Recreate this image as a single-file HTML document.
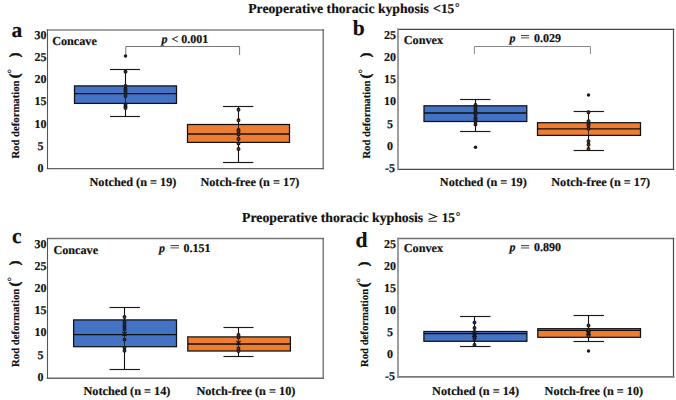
<!DOCTYPE html><html><head><meta charset="utf-8"><style>html,body{margin:0;padding:0;background:#fff;}svg{display:block;}text{font-family:"Liberation Serif",serif;text-rendering:geometricPrecision;stroke:#111;stroke-width:0.18px;}</style></head><body>
<svg width="676" height="400" viewBox="0 0 676 400">
<rect width="676" height="400" fill="#fff"/>
<text x="248.2" y="13" font-size="13.7" font-weight="bold" font-style="normal" text-anchor="start" fill="#111" >Preoperative thoracic kyphosis</text>
<text x="432.9" y="13" font-size="14" font-weight="bold" font-style="normal" text-anchor="start" fill="#111" >&lt;</text>
<text x="440.9" y="13" font-size="13.3" font-weight="bold" font-style="normal" text-anchor="start" fill="#111" >15</text>
<text x="454.9" y="11.2" font-size="11.5" font-weight="bold" font-style="normal" text-anchor="start" fill="#111" >°</text>
<text x="242.1" y="221.9" font-size="13.72" font-weight="bold" font-style="normal" text-anchor="start" fill="#111" >Preoperative thoracic kyphosis</text>
<path d="M428.6 213.4L436.5 216.5L428.6 219.6M428.3 221.2H436.9" fill="none" stroke="#1a1a1a" stroke-width="1.1"/>
<text x="441.7" y="221.8" font-size="13.3" font-weight="bold" font-style="normal" text-anchor="start" fill="#111" >15</text>
<text x="455.8" y="220.2" font-size="11.5" font-weight="bold" font-style="normal" text-anchor="start" fill="#111" >°</text>
<text x="11.5" y="36.5" font-size="21.5" font-weight="bold" font-style="normal" text-anchor="start" fill="#111" >a</text>
<text x="352.7" y="34.7" font-size="21.5" font-weight="bold" font-style="normal" text-anchor="start" fill="#111" >b</text>
<text x="12.0" y="243" font-size="21.5" font-weight="bold" font-style="normal" text-anchor="start" fill="#111" >c</text>
<text x="355.5" y="247.2" font-size="21.5" font-weight="bold" font-style="normal" text-anchor="start" fill="#111" >d</text>
<line x1="47.5" y1="30" x2="323.2" y2="30" stroke="#858585" stroke-width="1.7" stroke-linecap="square"/>
<line x1="323.2" y1="30" x2="323.2" y2="168.6" stroke="#6a6a6a" stroke-width="1.3" stroke-linecap="square"/>
<line x1="47.5" y1="168.6" x2="323.2" y2="168.6" stroke="#626262" stroke-width="1.4" stroke-linecap="square"/>
<line x1="47.5" y1="30" x2="47.5" y2="168.6" stroke="#555" stroke-width="1.1" stroke-linecap="square"/>
<text x="40.4" y="38.8" font-size="12" font-weight="bold" font-style="normal" text-anchor="middle" fill="#111" >30</text>
<text x="40.4" y="60.98" font-size="12" font-weight="bold" font-style="normal" text-anchor="middle" fill="#111" >25</text>
<text x="40.4" y="83.15" font-size="12" font-weight="bold" font-style="normal" text-anchor="middle" fill="#111" >20</text>
<text x="40.4" y="105.33" font-size="12" font-weight="bold" font-style="normal" text-anchor="middle" fill="#111" >15</text>
<text x="40.4" y="127.5" font-size="12" font-weight="bold" font-style="normal" text-anchor="middle" fill="#111" >10</text>
<text x="40.4" y="149.67" font-size="12" font-weight="bold" font-style="normal" text-anchor="middle" fill="#111" >5</text>
<text x="40.4" y="171.85" font-size="12" font-weight="bold" font-style="normal" text-anchor="middle" fill="#111" >0</text>
<text x="52.2" y="44.6" font-size="12.2" font-weight="bold" font-style="normal" text-anchor="start" fill="#111" >Concave</text>
<path d="M125.8 55.5V46.5H239.6V55" fill="none" stroke="#777" stroke-width="1"/>
<text x="161.5" y="42.5" font-size="12" font-weight="bold" font-style="italic" text-anchor="start" fill="#111" >p</text>
<text x="171.6" y="42.5" font-size="12" font-weight="bold" font-style="normal" text-anchor="start" fill="#111" >&lt;</text>
<text x="181.2" y="42.5" font-size="12" font-weight="bold" font-style="normal" text-anchor="start" fill="#111" >0.001</text>
<line x1="125.5" y1="69.5" x2="125.5" y2="116.5" stroke="#111" stroke-width="1.1"/>
<line x1="110" y1="69.5" x2="140" y2="69.5" stroke="#1a1a1a" stroke-width="1.15"/>
<line x1="110" y1="116.5" x2="140" y2="116.5" stroke="#1a1a1a" stroke-width="1.15"/>
<rect x="74.5" y="85.9" width="102.0" height="17.5" fill="#4472c4" stroke="#111" stroke-width="1.25"/>
<line x1="74.5" y1="93.6" x2="176.5" y2="93.6" stroke="#111" stroke-width="1.35"/>
<line x1="125.5" y1="85.9" x2="125.5" y2="103.4" stroke="#111" stroke-width="0.8"/>
<circle cx="125.5" cy="71.8" r="1.45" fill="#24324f" stroke="#151515" stroke-width="1.05"/>
<circle cx="125.5" cy="86" r="1.45" fill="#24324f" stroke="#151515" stroke-width="1.05"/>
<circle cx="125.5" cy="88.8" r="1.45" fill="#24324f" stroke="#151515" stroke-width="1.05"/>
<circle cx="125.5" cy="90.4" r="1.45" fill="#24324f" stroke="#151515" stroke-width="1.05"/>
<circle cx="125.5" cy="92.8" r="1.45" fill="#24324f" stroke="#151515" stroke-width="1.05"/>
<circle cx="125.5" cy="96" r="1.45" fill="#24324f" stroke="#151515" stroke-width="1.05"/>
<circle cx="125.5" cy="104.4" r="1.45" fill="#24324f" stroke="#151515" stroke-width="1.05"/>
<circle cx="125.5" cy="106.4" r="1.45" fill="#24324f" stroke="#151515" stroke-width="1.05"/>
<circle cx="125.5" cy="108" r="1.45" fill="#24324f" stroke="#151515" stroke-width="1.05"/>
<circle cx="125.5" cy="56" r="1.75" fill="#1a1a1a"/>
<line x1="238.5" y1="106.5" x2="238.5" y2="162.5" stroke="#111" stroke-width="1.1"/>
<line x1="223" y1="106.5" x2="253.3" y2="106.5" stroke="#1a1a1a" stroke-width="1.15"/>
<line x1="223" y1="162.5" x2="253.3" y2="162.5" stroke="#1a1a1a" stroke-width="1.15"/>
<rect x="187.5" y="124.5" width="102.0" height="17.900000000000006" fill="#ed7d31" stroke="#111" stroke-width="1.25"/>
<line x1="187.5" y1="134" x2="289.5" y2="134" stroke="#111" stroke-width="1.35"/>
<line x1="238.5" y1="124.5" x2="238.5" y2="142.4" stroke="#111" stroke-width="0.8"/>
<circle cx="238.5" cy="109.8" r="1.45" fill="#6e3a18" stroke="#151515" stroke-width="1.05"/>
<circle cx="238.5" cy="120.3" r="1.45" fill="#6e3a18" stroke="#151515" stroke-width="1.05"/>
<circle cx="238.5" cy="130" r="1.45" fill="#6e3a18" stroke="#151515" stroke-width="1.05"/>
<circle cx="238.5" cy="131.5" r="1.45" fill="#6e3a18" stroke="#151515" stroke-width="1.05"/>
<circle cx="238.5" cy="134.5" r="1.45" fill="#6e3a18" stroke="#151515" stroke-width="1.05"/>
<circle cx="238.5" cy="139" r="1.45" fill="#6e3a18" stroke="#151515" stroke-width="1.05"/>
<circle cx="238.5" cy="143.6" r="1.45" fill="#6e3a18" stroke="#151515" stroke-width="1.05"/>
<circle cx="238.5" cy="149" r="1.45" fill="#6e3a18" stroke="#151515" stroke-width="1.05"/>
<text x="89.5" y="185.7" font-size="12.25" font-weight="bold" font-style="normal" text-anchor="start" fill="#111" >Notched (n = 19)</text>
<text x="200.4" y="185.7" font-size="12.25" font-weight="bold" font-style="normal" text-anchor="start" fill="#111" >Notch-free (n = 17)</text>
<text transform="translate(19.3,158.6) rotate(-90)" font-size="10.7" font-weight="bold" fill="#111">Rod deformation</text>
<text transform="translate(18.5,78.2) rotate(-90)" font-size="14" font-weight="bold" fill="#111" style="stroke-width:0.55px">(</text>
<text transform="translate(18.5,57.3) rotate(-90)" font-size="14" font-weight="bold" fill="#111" style="stroke-width:0.55px">)</text>
<text transform="translate(15,73.5) rotate(-90)" font-size="11" font-weight="normal" fill="#111">°</text>
<line x1="398" y1="29.4" x2="673.5" y2="29.4" stroke="#454545" stroke-width="1.25" stroke-linecap="square"/>
<line x1="673.5" y1="29.4" x2="673.5" y2="169.45" stroke="#4a4a4a" stroke-width="1.25" stroke-linecap="square"/>
<line x1="398" y1="169.45" x2="673.5" y2="169.45" stroke="#4a4a4a" stroke-width="1.25" stroke-linecap="square"/>
<line x1="398" y1="29.4" x2="398" y2="169.45" stroke="#8c8c8c" stroke-width="1.7" stroke-linecap="square"/>
<text x="390.1" y="38.85" font-size="12" font-weight="bold" font-style="normal" text-anchor="middle" fill="#111" >25</text>
<text x="390.1" y="61.03" font-size="12" font-weight="bold" font-style="normal" text-anchor="middle" fill="#111" >20</text>
<text x="390.1" y="83.21" font-size="12" font-weight="bold" font-style="normal" text-anchor="middle" fill="#111" >15</text>
<text x="390.1" y="105.39" font-size="12" font-weight="bold" font-style="normal" text-anchor="middle" fill="#111" >10</text>
<text x="390.1" y="127.57" font-size="12" font-weight="bold" font-style="normal" text-anchor="middle" fill="#111" >5</text>
<text x="390.1" y="149.75" font-size="12" font-weight="bold" font-style="normal" text-anchor="middle" fill="#111" >0</text>
<text x="390.1" y="171.93" font-size="12" font-weight="bold" font-style="normal" text-anchor="middle" fill="#111" >-5</text>
<text x="403.8" y="44.4" font-size="12.2" font-weight="bold" font-style="normal" text-anchor="start" fill="#111" >Convex</text>
<path d="M474.4 54V46.5H590.4V54" fill="none" stroke="#888" stroke-width="1"/>
<text x="509.5" y="41.5" font-size="12" font-weight="bold" font-style="italic" text-anchor="start" fill="#111" >p</text>
<rect x="521" y="35.0" width="8.200000000000045" height="1.1" fill="#4a4a4a"/>
<rect x="521" y="37.1" width="8.200000000000045" height="1.5" fill="#8c8c8c"/>
<text x="533.9" y="41.5" font-size="12" font-weight="bold" font-style="normal" text-anchor="start" fill="#111" >0.029</text>
<line x1="475.5" y1="99.5" x2="475.5" y2="131.5" stroke="#111" stroke-width="1.1"/>
<line x1="460" y1="99.5" x2="490.5" y2="99.5" stroke="#1a1a1a" stroke-width="1.15"/>
<line x1="460" y1="131.5" x2="490.5" y2="131.5" stroke="#1a1a1a" stroke-width="1.15"/>
<rect x="424" y="105.8" width="102.79999999999995" height="15.700000000000003" fill="#4472c4" stroke="#111" stroke-width="1.25"/>
<line x1="424" y1="113" x2="526.8" y2="113" stroke="#111" stroke-width="1.35"/>
<line x1="475.5" y1="105.8" x2="475.5" y2="121.5" stroke="#111" stroke-width="0.8"/>
<circle cx="475.5" cy="105" r="1.45" fill="#24324f" stroke="#151515" stroke-width="1.05"/>
<circle cx="475.5" cy="107" r="1.45" fill="#24324f" stroke="#151515" stroke-width="1.05"/>
<circle cx="475.5" cy="109" r="1.45" fill="#24324f" stroke="#151515" stroke-width="1.05"/>
<circle cx="475.5" cy="111" r="1.45" fill="#24324f" stroke="#151515" stroke-width="1.05"/>
<circle cx="475.5" cy="113" r="1.45" fill="#24324f" stroke="#151515" stroke-width="1.05"/>
<circle cx="475.5" cy="114.5" r="1.45" fill="#24324f" stroke="#151515" stroke-width="1.05"/>
<circle cx="475.5" cy="118" r="1.45" fill="#24324f" stroke="#151515" stroke-width="1.05"/>
<circle cx="475.5" cy="119.5" r="1.45" fill="#24324f" stroke="#151515" stroke-width="1.05"/>
<circle cx="475.5" cy="121.5" r="1.45" fill="#24324f" stroke="#151515" stroke-width="1.05"/>
<circle cx="475.5" cy="124.5" r="1.45" fill="#24324f" stroke="#151515" stroke-width="1.05"/>
<circle cx="475.5" cy="147.2" r="1.75" fill="#1a1a1a"/>
<line x1="588.5" y1="111.5" x2="588.5" y2="150.5" stroke="#111" stroke-width="1.1"/>
<line x1="573.6" y1="111.5" x2="604" y2="111.5" stroke="#1a1a1a" stroke-width="1.15"/>
<line x1="573.6" y1="150.5" x2="604" y2="150.5" stroke="#1a1a1a" stroke-width="1.15"/>
<rect x="537.5" y="122.7" width="103.0" height="12.700000000000003" fill="#ed7d31" stroke="#111" stroke-width="1.25"/>
<line x1="537.5" y1="128.8" x2="640.5" y2="128.8" stroke="#111" stroke-width="1.35"/>
<line x1="588.5" y1="122.7" x2="588.5" y2="135.4" stroke="#111" stroke-width="0.8"/>
<circle cx="588.5" cy="112.3" r="1.45" fill="#6e3a18" stroke="#151515" stroke-width="1.05"/>
<circle cx="588.5" cy="121.3" r="1.45" fill="#6e3a18" stroke="#151515" stroke-width="1.05"/>
<circle cx="588.5" cy="124.4" r="1.45" fill="#6e3a18" stroke="#151515" stroke-width="1.05"/>
<circle cx="588.5" cy="125.6" r="1.45" fill="#6e3a18" stroke="#151515" stroke-width="1.05"/>
<circle cx="588.5" cy="128.8" r="1.45" fill="#6e3a18" stroke="#151515" stroke-width="1.05"/>
<circle cx="588.5" cy="141.3" r="1.45" fill="#6e3a18" stroke="#151515" stroke-width="1.05"/>
<circle cx="588.5" cy="144.8" r="1.45" fill="#6e3a18" stroke="#151515" stroke-width="1.05"/>
<circle cx="588.5" cy="149" r="1.45" fill="#6e3a18" stroke="#151515" stroke-width="1.05"/>
<circle cx="588.5" cy="95" r="1.75" fill="#1a1a1a"/>
<text x="439.8" y="185.7" font-size="12.25" font-weight="bold" font-style="normal" text-anchor="start" fill="#111" >Notched (n = 19)</text>
<text x="551.2" y="185.7" font-size="12.25" font-weight="bold" font-style="normal" text-anchor="start" fill="#111" >Notch-free (n = 17)</text>
<text transform="translate(370,158.6) rotate(-90)" font-size="10.7" font-weight="bold" fill="#111">Rod deformation</text>
<text transform="translate(370.4,78.5) rotate(-90)" font-size="14" font-weight="bold" fill="#111" style="stroke-width:0.55px">(</text>
<text transform="translate(370.4,57.2) rotate(-90)" font-size="14" font-weight="bold" fill="#111" style="stroke-width:0.55px">)</text>
<text transform="translate(365.9,73.5) rotate(-90)" font-size="11" font-weight="normal" fill="#111">°</text>
<line x1="47.5" y1="238.55" x2="323.2" y2="238.55" stroke="#747474" stroke-width="1.5" stroke-linecap="square"/>
<line x1="323.2" y1="238.55" x2="323.2" y2="378.3" stroke="#6a6a6a" stroke-width="1.3" stroke-linecap="square"/>
<line x1="47.5" y1="378.3" x2="323.2" y2="378.3" stroke="#686868" stroke-width="1.5" stroke-linecap="square"/>
<line x1="47.5" y1="238.55" x2="47.5" y2="378.3" stroke="#555" stroke-width="1.1" stroke-linecap="square"/>
<text x="40.5" y="247.75" font-size="12" font-weight="bold" font-style="normal" text-anchor="middle" fill="#111" >30</text>
<text x="40.5" y="269.92" font-size="12" font-weight="bold" font-style="normal" text-anchor="middle" fill="#111" >25</text>
<text x="40.5" y="292.09" font-size="12" font-weight="bold" font-style="normal" text-anchor="middle" fill="#111" >20</text>
<text x="40.5" y="314.26" font-size="12" font-weight="bold" font-style="normal" text-anchor="middle" fill="#111" >15</text>
<text x="40.5" y="336.43" font-size="12" font-weight="bold" font-style="normal" text-anchor="middle" fill="#111" >10</text>
<text x="40.5" y="358.6" font-size="12" font-weight="bold" font-style="normal" text-anchor="middle" fill="#111" >5</text>
<text x="40.5" y="380.77" font-size="12" font-weight="bold" font-style="normal" text-anchor="middle" fill="#111" >0</text>
<text x="53.4" y="253.5" font-size="12.2" font-weight="bold" font-style="normal" text-anchor="start" fill="#111" >Concave</text>
<text x="159" y="251.7" font-size="12" font-weight="bold" font-style="italic" text-anchor="start" fill="#111" >p</text>
<rect x="170.5" y="245.0" width="8.5" height="1.1" fill="#4a4a4a"/>
<rect x="170.5" y="247.1" width="8.5" height="1.5" fill="#8c8c8c"/>
<text x="183.5" y="251.7" font-size="12" font-weight="bold" font-style="normal" text-anchor="start" fill="#111" >0.151</text>
<line x1="124.5" y1="307.5" x2="124.5" y2="369.5" stroke="#111" stroke-width="1.1"/>
<line x1="109.5" y1="307.5" x2="140" y2="307.5" stroke="#1a1a1a" stroke-width="1.15"/>
<line x1="109.5" y1="369.5" x2="140" y2="369.5" stroke="#1a1a1a" stroke-width="1.15"/>
<rect x="73.6" y="319.9" width="102.9" height="26.80000000000001" fill="#4472c4" stroke="#111" stroke-width="1.25"/>
<line x1="73.6" y1="334.6" x2="176.5" y2="334.6" stroke="#111" stroke-width="1.35"/>
<line x1="124.5" y1="319.9" x2="124.5" y2="346.7" stroke="#111" stroke-width="0.8"/>
<circle cx="124.5" cy="317" r="1.45" fill="#24324f" stroke="#151515" stroke-width="1.05"/>
<circle cx="124.5" cy="321.5" r="1.45" fill="#24324f" stroke="#151515" stroke-width="1.05"/>
<circle cx="124.5" cy="324.5" r="1.45" fill="#24324f" stroke="#151515" stroke-width="1.05"/>
<circle cx="124.5" cy="327" r="1.45" fill="#24324f" stroke="#151515" stroke-width="1.05"/>
<circle cx="124.5" cy="329.5" r="1.45" fill="#24324f" stroke="#151515" stroke-width="1.05"/>
<circle cx="124.5" cy="339.6" r="1.45" fill="#24324f" stroke="#151515" stroke-width="1.05"/>
<circle cx="124.5" cy="347.8" r="1.45" fill="#24324f" stroke="#151515" stroke-width="1.05"/>
<circle cx="124.5" cy="350.8" r="1.45" fill="#24324f" stroke="#151515" stroke-width="1.05"/>
<path d="M122.4 331.9L126.6 336.1M122.4 336.1L126.6 331.9" stroke="#111" stroke-width="1.3"/>
<line x1="238.5" y1="327.5" x2="238.5" y2="356.5" stroke="#111" stroke-width="1.1"/>
<line x1="223.5" y1="327.5" x2="253.5" y2="327.5" stroke="#1a1a1a" stroke-width="1.15"/>
<line x1="223.5" y1="356.5" x2="253.5" y2="356.5" stroke="#1a1a1a" stroke-width="1.15"/>
<rect x="187.8" y="336.9" width="102.59999999999997" height="14.100000000000023" fill="#ed7d31" stroke="#111" stroke-width="1.25"/>
<line x1="187.8" y1="344" x2="290.4" y2="344" stroke="#111" stroke-width="1.35"/>
<line x1="238.5" y1="336.9" x2="238.5" y2="351" stroke="#111" stroke-width="0.8"/>
<circle cx="238.5" cy="335" r="1.45" fill="#6e3a18" stroke="#151515" stroke-width="1.05"/>
<circle cx="238.5" cy="337.5" r="1.45" fill="#6e3a18" stroke="#151515" stroke-width="1.05"/>
<circle cx="238.5" cy="348.5" r="1.45" fill="#6e3a18" stroke="#151515" stroke-width="1.05"/>
<circle cx="238.5" cy="351" r="1.45" fill="#6e3a18" stroke="#151515" stroke-width="1.05"/>
<path d="M236.4 340.9L240.6 345.1M236.4 345.1L240.6 340.9" stroke="#111" stroke-width="1.3"/>
<text x="83.5" y="395" font-size="12.25" font-weight="bold" font-style="normal" text-anchor="start" fill="#111" >Notched (n = 14)</text>
<text x="196.4" y="395" font-size="12.25" font-weight="bold" font-style="normal" text-anchor="start" fill="#111" >Notch-free (n = 10)</text>
<text transform="translate(19.4,366.9) rotate(-90)" font-size="10.7" font-weight="bold" fill="#111">Rod deformation</text>
<text transform="translate(18.5,286.5) rotate(-90)" font-size="14" font-weight="bold" fill="#111" style="stroke-width:0.55px">(</text>
<text transform="translate(18.5,265.2) rotate(-90)" font-size="14" font-weight="bold" fill="#111" style="stroke-width:0.55px">)</text>
<text transform="translate(14.6,281.5) rotate(-90)" font-size="11" font-weight="normal" fill="#111">°</text>
<line x1="398" y1="238.55" x2="673.5" y2="238.55" stroke="#6e6e6e" stroke-width="1.5" stroke-linecap="square"/>
<line x1="673.5" y1="238.55" x2="673.5" y2="376.9" stroke="#4a4a4a" stroke-width="1.25" stroke-linecap="square"/>
<line x1="398" y1="376.9" x2="673.5" y2="376.9" stroke="#7a7a7a" stroke-width="1.8" stroke-linecap="square"/>
<line x1="398" y1="238.55" x2="398" y2="376.9" stroke="#8c8c8c" stroke-width="1.7" stroke-linecap="square"/>
<text x="390.1" y="247.7" font-size="12" font-weight="bold" font-style="normal" text-anchor="middle" fill="#111" >25</text>
<text x="390.1" y="269.74" font-size="12" font-weight="bold" font-style="normal" text-anchor="middle" fill="#111" >20</text>
<text x="390.1" y="291.78" font-size="12" font-weight="bold" font-style="normal" text-anchor="middle" fill="#111" >15</text>
<text x="390.1" y="313.82" font-size="12" font-weight="bold" font-style="normal" text-anchor="middle" fill="#111" >10</text>
<text x="390.1" y="335.86" font-size="12" font-weight="bold" font-style="normal" text-anchor="middle" fill="#111" >5</text>
<text x="390.1" y="357.9" font-size="12" font-weight="bold" font-style="normal" text-anchor="middle" fill="#111" >0</text>
<text x="390.1" y="379.94" font-size="12" font-weight="bold" font-style="normal" text-anchor="middle" fill="#111" >-5</text>
<text x="403.8" y="252.2" font-size="12.2" font-weight="bold" font-style="normal" text-anchor="start" fill="#111" >Convex</text>
<text x="509.5" y="251.3" font-size="12" font-weight="bold" font-style="italic" text-anchor="start" fill="#111" >p</text>
<rect x="521" y="245.1" width="8.200000000000045" height="1.1" fill="#4a4a4a"/>
<rect x="521" y="247.2" width="8.200000000000045" height="1.5" fill="#8c8c8c"/>
<text x="533.9" y="251.3" font-size="12" font-weight="bold" font-style="normal" text-anchor="start" fill="#111" >0.890</text>
<line x1="474.5" y1="316.5" x2="474.5" y2="346.5" stroke="#111" stroke-width="1.1"/>
<line x1="460" y1="316.5" x2="490.5" y2="316.5" stroke="#1a1a1a" stroke-width="1.15"/>
<line x1="460" y1="346.5" x2="490.5" y2="346.5" stroke="#1a1a1a" stroke-width="1.15"/>
<rect x="423.9" y="331.5" width="103.0" height="9.800000000000011" fill="#4472c4" stroke="#111" stroke-width="1.25"/>
<line x1="423.9" y1="333.6" x2="526.9" y2="333.6" stroke="#111" stroke-width="1.35"/>
<line x1="474.5" y1="331.5" x2="474.5" y2="341.3" stroke="#111" stroke-width="0.8"/>
<circle cx="474.5" cy="322.5" r="1.45" fill="#24324f" stroke="#151515" stroke-width="1.05"/>
<circle cx="474.5" cy="328" r="1.45" fill="#24324f" stroke="#151515" stroke-width="1.05"/>
<circle cx="474.5" cy="332" r="1.45" fill="#24324f" stroke="#151515" stroke-width="1.05"/>
<circle cx="474.5" cy="334.5" r="1.45" fill="#24324f" stroke="#151515" stroke-width="1.05"/>
<circle cx="474.5" cy="336.5" r="1.45" fill="#24324f" stroke="#151515" stroke-width="1.05"/>
<circle cx="474.5" cy="339" r="1.45" fill="#24324f" stroke="#151515" stroke-width="1.05"/>
<circle cx="474.5" cy="345" r="1.45" fill="#24324f" stroke="#151515" stroke-width="1.05"/>
<path d="M472.4 332.9L476.6 337.1M472.4 337.1L476.6 332.9" stroke="#111" stroke-width="1.3"/>
<line x1="588.5" y1="315.5" x2="588.5" y2="341.5" stroke="#111" stroke-width="1.1"/>
<line x1="573.5" y1="315.5" x2="604" y2="315.5" stroke="#1a1a1a" stroke-width="1.15"/>
<line x1="573.5" y1="341.5" x2="604" y2="341.5" stroke="#1a1a1a" stroke-width="1.15"/>
<rect x="537.8" y="328.7" width="102.70000000000005" height="8.600000000000023" fill="#ed7d31" stroke="#111" stroke-width="1.25"/>
<line x1="537.8" y1="330.4" x2="640.5" y2="330.4" stroke="#111" stroke-width="1.35"/>
<line x1="588.5" y1="328.7" x2="588.5" y2="337.3" stroke="#111" stroke-width="0.8"/>
<circle cx="588.5" cy="325.5" r="1.45" fill="#6e3a18" stroke="#151515" stroke-width="1.05"/>
<circle cx="588.5" cy="330.3" r="1.45" fill="#6e3a18" stroke="#151515" stroke-width="1.05"/>
<circle cx="588.5" cy="332.5" r="1.45" fill="#6e3a18" stroke="#151515" stroke-width="1.05"/>
<circle cx="588.5" cy="334.2" r="1.45" fill="#6e3a18" stroke="#151515" stroke-width="1.05"/>
<circle cx="588.5" cy="336" r="1.45" fill="#6e3a18" stroke="#151515" stroke-width="1.05"/>
<circle cx="588.5" cy="350.9" r="1.75" fill="#1a1a1a"/>
<path d="M586.4 330.9L590.6 335.1M586.4 335.1L590.6 330.9" stroke="#111" stroke-width="1.3"/>
<text x="432.1" y="395" font-size="12.25" font-weight="bold" font-style="normal" text-anchor="start" fill="#111" >Notched (n = 14)</text>
<text x="544.6" y="395" font-size="12.2" font-weight="bold" font-style="normal" text-anchor="start" fill="#111" >Notch-free (n = 10)</text>
<text transform="translate(367.8,367) rotate(-90)" font-size="10.7" font-weight="bold" fill="#111">Rod deformation</text>
<text transform="translate(367.7,287.2) rotate(-90)" font-size="14" font-weight="bold" fill="#111" style="stroke-width:0.55px">(</text>
<text transform="translate(367.7,266.2) rotate(-90)" font-size="14" font-weight="bold" fill="#111" style="stroke-width:0.55px">)</text>
<text transform="translate(363.6,282.5) rotate(-90)" font-size="11" font-weight="normal" fill="#111">°</text>
</svg></body></html>
